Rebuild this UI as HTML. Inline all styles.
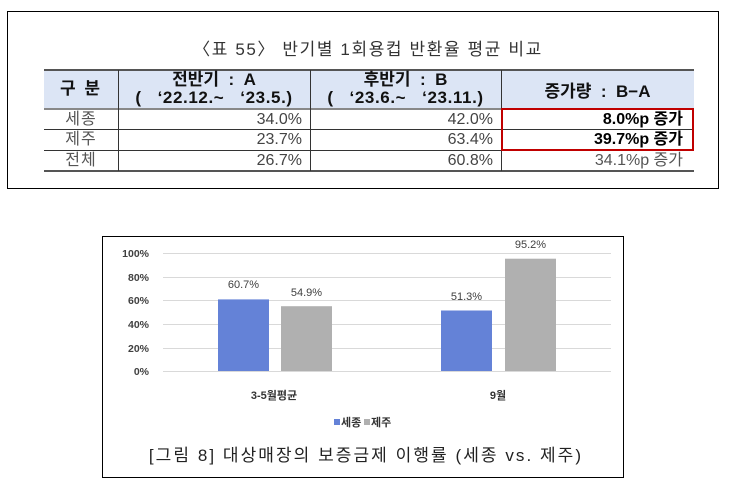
<!DOCTYPE html>
<html><head><meta charset="utf-8"><style>
*{margin:0;padding:0;box-sizing:border-box}
body{width:732px;height:484px;background:#fff;position:relative;overflow:hidden;font-family:"Liberation Sans","Noto Sans CJK KR",sans-serif}
.a{position:absolute}
.t{position:absolute;white-space:nowrap;line-height:20px;height:20px}
.h{font-weight:bold;color:#111;font-size:17px;text-align:center}
.d{font-size:16px;color:#444;text-align:right}
.l{font-size:16px;color:#555;text-align:center;letter-spacing:1px}
</style></head><body>
<!-- top box -->
<div class="a" style="left:7px;top:11px;width:712px;height:178px;border:1px solid #000"></div>
<div class="t" style="left:7px;width:722px;top:40px;text-align:center;font-size:17px;color:#333;letter-spacing:1.6px">〈표 55〉 반기별 1회용컵 반환율 평균 비교</div>
<!-- header bg -->
<div class="a" style="left:44px;top:70px;width:650px;height:39px;background:#dce5f5"></div>
<div class="a" style="left:44px;top:69px;width:650px;height:2px;background:#555"></div>
<div class="a" style="left:44px;top:108px;width:650px;height:2px;background:#888"></div>
<div class="a" style="left:44px;top:129px;width:650px;height:1px;background:#333"></div>
<div class="a" style="left:44px;top:150px;width:650px;height:1px;background:#333"></div>
<div class="a" style="left:44px;top:170px;width:650px;height:2px;background:#555"></div>
<div class="a" style="left:118px;top:70px;width:1px;height:101px;background:#333"></div>
<div class="a" style="left:310px;top:70px;width:1px;height:101px;background:#333"></div>
<div class="a" style="left:501px;top:70px;width:1px;height:101px;background:#333"></div>
<div class="a" style="left:501px;top:108px;width:193px;height:43px;border:2px solid #c00000"></div>
<!-- header text -->
<div class="t h" style="left:44px;width:74px;top:79px;letter-spacing:2px">구 분</div>
<div class="t h" style="left:118px;width:192px;top:70px">전반기&nbsp; :&nbsp; A</div>
<div class="t h" style="left:118px;width:192px;top:88px;letter-spacing:0.6px">(&nbsp;&nbsp; ‘22.12.~&nbsp;&nbsp; ‘23.5.)</div>
<div class="t h" style="left:310px;width:191px;top:70px">후반기&nbsp; :&nbsp; B</div>
<div class="t h" style="left:310px;width:191px;top:88px;letter-spacing:0.6px">(&nbsp;&nbsp; ‘23.6.~&nbsp;&nbsp; ‘23.11.)</div>
<div class="t h" style="left:501px;width:193px;top:82px">증가량&nbsp; :&nbsp; B−A</div>
<!-- rows -->
<div class="t l" style="left:44px;width:74px;top:110px">세종</div>
<div class="t l" style="left:44px;width:74px;top:130px">제주</div>
<div class="t l" style="left:44px;width:74px;top:151px">전체</div>
<div class="t d" style="left:118px;width:184px;top:110px">34.0%</div>
<div class="t d" style="left:118px;width:184px;top:130px">23.7%</div>
<div class="t d" style="left:118px;width:184px;top:151px">26.7%</div>
<div class="t d" style="left:310px;width:183px;top:110px">42.0%</div>
<div class="t d" style="left:310px;width:183px;top:130px">63.4%</div>
<div class="t d" style="left:310px;width:183px;top:151px">60.8%</div>
<div class="t d" style="left:501px;width:182px;top:110px;font-weight:bold;color:#000">8.0%p 증가</div>
<div class="t d" style="left:501px;width:182px;top:130px;font-weight:bold;color:#000">39.7%p 증가</div>
<div class="t d" style="left:501px;width:182px;top:151px;color:#555">34.1%p 증가</div>
<!-- chart box -->
<div class="a" style="left:102px;top:236px;width:522px;height:242px;border:1px solid #000"></div>
<svg class="a" style="left:0;top:0" width="732" height="484" xmlns="http://www.w3.org/2000/svg">
<g stroke="#d9d9d9" stroke-width="1">
<line x1="163" y1="253.5" x2="611" y2="253.5"/>
<line x1="163" y1="277.5" x2="611" y2="277.5"/>
<line x1="163" y1="300.5" x2="611" y2="300.5"/>
<line x1="163" y1="324.5" x2="611" y2="324.5"/>
<line x1="163" y1="348.5" x2="611" y2="348.5"/>
<line x1="163" y1="371.5" x2="611" y2="371.5"/>
</g>
<rect x="218" y="299.4" width="51" height="71.6" fill="#6482d7"/>
<rect x="281" y="306.2" width="51" height="64.8" fill="#b0b0b0"/>
<rect x="441" y="310.5" width="51" height="60.5" fill="#6482d7"/>
<rect x="505" y="258.7" width="51" height="112.3" fill="#b0b0b0"/>
<g font-family="Liberation Sans, Noto Sans CJK KR, sans-serif" font-size="11" fill="#404040" text-anchor="middle">
<text x="243.5" y="288">60.7%</text>
<text x="306.5" y="296">54.9%</text>
<text x="466.5" y="300">51.3%</text>
<text x="530.5" y="248">95.2%</text>
</g>
<g font-family="Liberation Sans, Noto Sans CJK KR, sans-serif" font-size="10.5" font-weight="bold" fill="#404040" text-anchor="end">
<text x="149" y="257">100%</text>
<text x="149" y="281">80%</text>
<text x="149" y="304">60%</text>
<text x="149" y="328">40%</text>
<text x="149" y="352">20%</text>
<text x="149" y="375">0%</text>
</g>
<g font-family="Liberation Sans, Noto Sans CJK KR, sans-serif" font-size="11" font-weight="bold" fill="#333" text-anchor="middle">
<text x="274" y="399">3-5월평균</text>
<text x="498" y="399">9월</text>
</g>
<rect x="334" y="419" width="6" height="6" fill="#6482d7"/>
<rect x="364" y="419" width="6" height="6" fill="#b0b0b0"/>
<g font-family="Liberation Sans, Noto Sans CJK KR, sans-serif" font-size="11" font-weight="bold" fill="#333">
<text x="341" y="426">세종</text>
<text x="371" y="426">제주</text>
</g>
<text x="366" y="461" text-anchor="middle" font-family="Liberation Sans, Noto Sans CJK KR, sans-serif" font-size="17" fill="#222" letter-spacing="2.05">[그림 8] 대상매장의 보증금제 이행률 (세종 vs. 제주)</text>
</svg>
</body></html>
